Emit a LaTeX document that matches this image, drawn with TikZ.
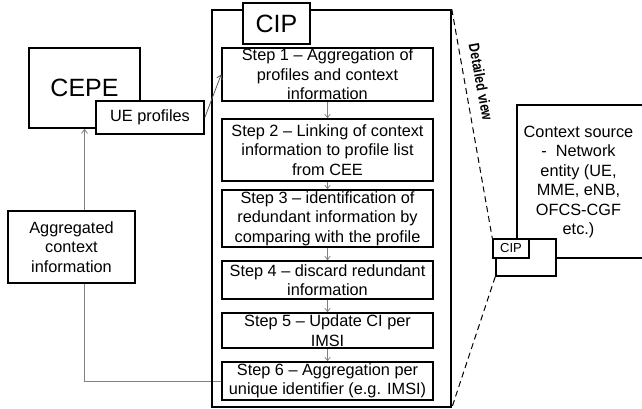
\documentclass[tikz,border=0pt]{standalone}
\usepackage{fontspec}
\usepackage{graphicx}
\setmainfont{Liberation Sans}
\usetikzlibrary{arrows.meta}
\pgfdeclarelayer{back}
\pgfsetlayers{back,main}

\begin{document}
\begin{tikzpicture}[x=1pt,y=-1pt,
  box/.style={draw=black, line width=1.6pt, fill=white, inner sep=0pt},
  frame/.style={draw=black, line width=1.6pt, inner sep=0pt},
  stepbox/.style={box, minimum width=211pt},
  txt/.style={font=\fontsize{16.3}{19.5}\selectfont, align=center, inner sep=0pt},
  big/.style={font=\fontsize{25}{30}\selectfont, inner sep=0pt},
  small/.style={font=\fontsize{13}{15}\selectfont, inner sep=0pt},
  flow/.style={draw=gray, line width=0.8pt, -{Straight Barb[length=4pt,width=6pt]}},
  stepflow/.style={draw=gray, line width=0.7pt, -{Straight Barb[length=3.5pt,width=5.5pt]}},
  zoomline/.style={draw=black, line width=1pt, dash pattern=on 6pt off 4pt},
]
\useasboundingbox (0,0) rectangle (642,408);

% Context information processor with its steps
\node[frame, minimum width=239pt, minimum height=397pt] (cip) at (331.5,208.5) {};
\node[box, big, minimum width=67pt, minimum height=41pt] (ciptag) at (276.5,23.5) {CIP};

\node[stepbox, minimum height=53pt] (s1) at (327.5,74.5) {};
\node[txt] (t1) at (s1) {Step 1 – Aggregation of\\profiles and context\\information};
\node[stepbox, minimum height=62pt] (s2) at (327.5,150) {};
\node[txt] (t2) at (s2) {Step 2 – Linking of context\\information to profile list\\from CEE};
\node[stepbox, minimum height=57pt] (s3) at (327.5,218.5) {};
\node[txt] (t3) at (s3) {Step 3 – identification of\\redundant information by\\comparing with the profile};
\node[stepbox, minimum height=38pt] (s4) at (327.5,280) {};
\node[txt] (t4) at (s4) {Step 4 – discard redundant\\information};
\node[stepbox, minimum height=35pt] (s5) at (327.5,330.5) {};
\node[txt] (t5) at (s5) {Step 5 – Update CI per\\IMSI};
\node[stepbox, minimum height=38pt] (s6) at (327.5,381) {};
\node[txt] (t6) at (s6) {Step 6 – Aggregation per\\unique identifier (e.g. IMSI)};

\draw[stepflow] (s1.south) -- (s2.north);
\draw[stepflow] (s2.south) -- (s3.north);
\draw[stepflow] (s3.south) -- (s4.north);
\draw[stepflow] (s4.south) -- (s5.north);
\draw[stepflow] (s5.south) -- (s6.north);

% Left side: CEPE, profiles and aggregated context
\node[box, big, minimum width=111pt, minimum height=80pt] (cepe) at (84.5,88) {CEPE};
\node[box, txt, minimum width=108pt, minimum height=33pt] (ue) at (150,117.5) {UE profiles};
\node[box, txt, minimum width=127pt, minimum height=72pt] (agg) at (71.5,247) {Aggregated\\context\\information};

\begin{pgfonlayer}{back}
  \draw[flow] (s6.west) -| (cepe.south);
\end{pgfonlayer}
\draw[flow, draw=black!65] (ue.east) -- (s1.west);

% Right side: context source with its embedded CIP
\node[box, minimum width=143pt, minimum height=153pt] (ctx) at (588.5,181.5) {};
\node[txt] (ctxtext) at (578.5,182) {Context source\\-\ \ Network\\entity (UE,\\MME, eNB,\\OFCS-CGF\\etc.)};
\node[box, minimum width=60pt, minimum height=37pt] (under) at (526,257.5) {};
\node[box, small, line width=1.4pt, minimum width=36pt, minimum height=19pt] (tag) at (511,248.5) {CIP};

% Zoom lines of the detailed view
\draw[zoomline] (cip.north east) -- (tag.north west);
\draw[zoomline] (under.south west) -- (cip.south east);
\node[font=\fontsize{15}{18}\selectfont\bfseries, rotate=-79.6, inner sep=0pt] (dv) at (481,82) {\scalebox{0.82}[1]{Detailed view}};
\end{tikzpicture}
\end{document}
